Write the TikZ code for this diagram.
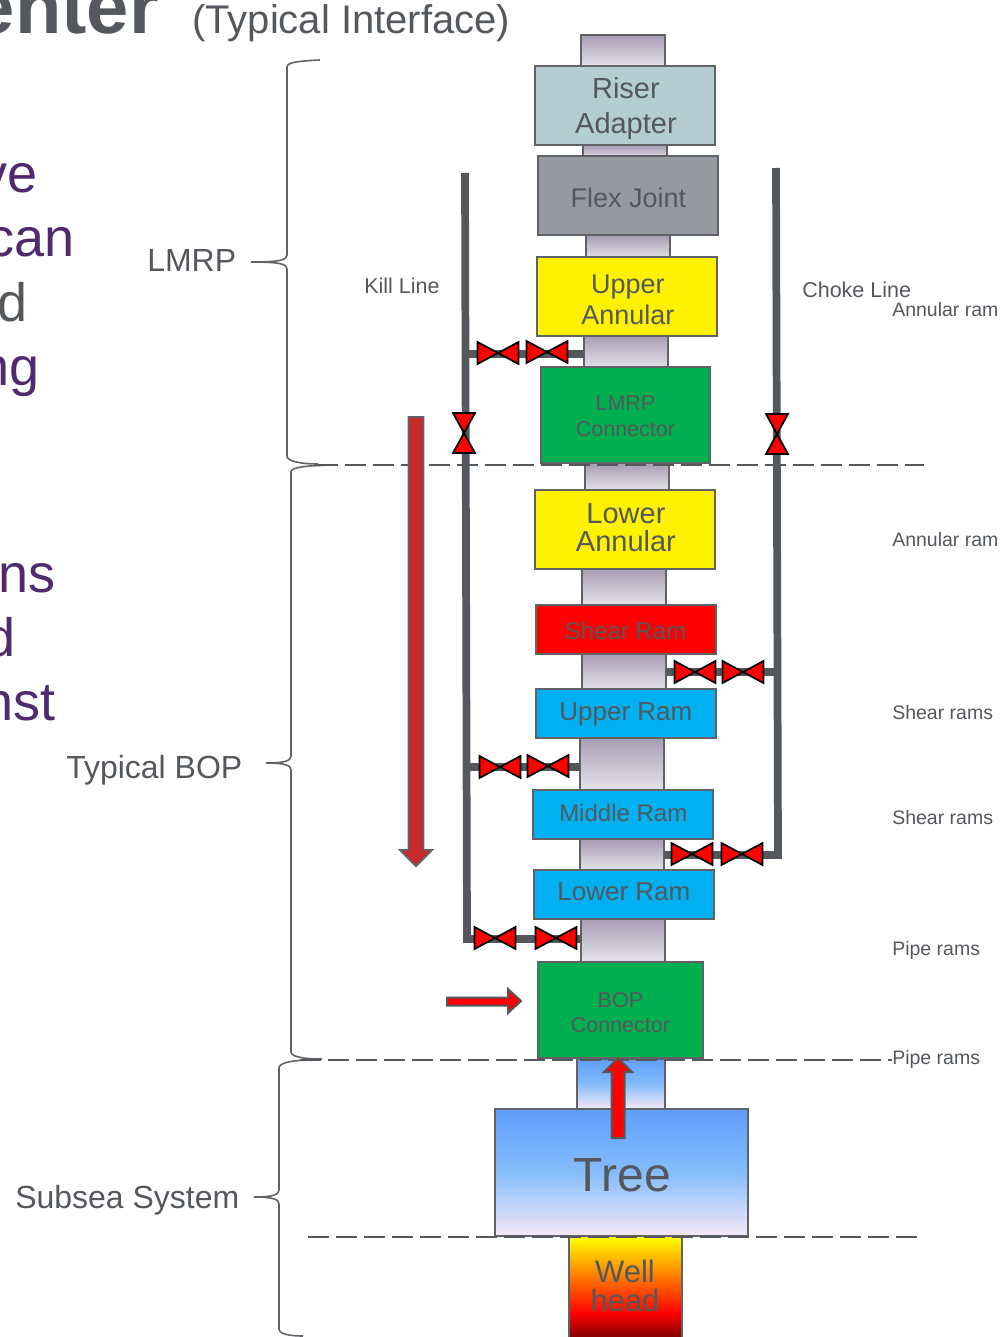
\documentclass[tikz,border=0pt]{standalone}
\usepackage{fontspec}
\setmainfont{Liberation Sans}
\definecolor{tgrey}{HTML}{54585C}
\definecolor{tpurple}{HTML}{4F2A6E}
\definecolor{adapter}{HTML}{B4CDD2}
\definecolor{flex}{HTML}{96999D}
\definecolor{conn}{HTML}{00AF50}
\definecolor{ramblue}{HTML}{00B0F0}
\definecolor{pipetop}{HTML}{A79CB4}
\definecolor{pipebot}{HTML}{E6E4EA}
\definecolor{treetop}{HTML}{5F9DFB}
\definecolor{treemid}{HTML}{85BDFB}
\definecolor{treebot}{HTML}{F6E8F6}
\definecolor{edgegrey}{HTML}{5F6266}
\definecolor{bloodred}{HTML}{C92A2E}
\newcommand{\pxl}[2]{\fontsize{\dimexpr #1pt*3/4\relax}{\dimexpr #2pt*3/4\relax}\selectfont}
\newcommand{\px}[1]{\pxl{#1}{#1}}
\tikzset{
  x=0.75pt,y=-0.75pt,
  boxn/.style={draw=edgegrey,line width=1.4pt,inner sep=0pt,outer sep=0pt,anchor=north west},
  bore/.style={draw=edgegrey,line width=1.4pt,top color=pipetop,bottom color=pipebot,inner sep=0pt,outer sep=0pt,anchor=north west,minimum width=63pt},
  boxtext/.style={text=tgrey,align=center,inner sep=0pt,xshift=0.7pt,yshift=-0.7pt},
  hose/.style={draw=tgrey,line width=5.8pt},
  dashline/.style={draw=tgrey,line width=1.5pt,dash pattern=on 15.5pt off 5.5pt},
  bracen/.style={draw=edgegrey,line width=1.2pt},
  lab/.style={text=tgrey,inner sep=0pt},
  sidelab/.style={lab,font=\px{19.5},anchor=base west},
  bodytext/.style={anchor=base east,inner sep=0pt,font=\px{54}},
  valve/.style={fill=red,draw=black,line width=1.3pt,line join=miter},
  bigarrow/.style={fill=red,draw=tgrey,line width=1.5pt,line join=miter}
}
\newcommand{\hvalve}[2]{\draw[valve] (#1-20.5,#2-11)--(#1+20.5,#2+11)--(#1+20.5,#2-11)--(#1-20.5,#2+11)--cycle;}
\newcommand{\vvalve}[2]{\draw[valve] (#1-11,#2-20)--(#1+11,#2-20)--(#1-11,#2+20)--(#1+11,#2+20)--cycle;}
\begin{document}
\begin{tikzpicture}
\useasboundingbox (0,0) rectangle (1000,1337);
\clip (0,0) rectangle (1000,1337);
% title and clipped text
\node[lab,anchor=base east,font=\bfseries\px{76}] (title) at (159,34) {enter};
\node[lab,anchor=base west,font=\px{40}] (sub) at (192,34) {(Typical Interface)};
\node[bodytext,text=tpurple] (t1) at (38,193) {ve};
\node[bodytext,text=tpurple] (t2) at (75,257) {can};
\node[bodytext,text=tgrey] (t3) at (28,321) {d};
\node[bodytext,text=tpurple] (t4) at (40,385) {ng};
\node[bodytext,text=tpurple] (t5) at (56,592) {ns};
\node[bodytext,text=tpurple] (t6) at (16,656) {d};
\node[bodytext,text=tpurple] (t7) at (56,720) {nst};
% braces
\draw[bracen] (320,60) .. controls (300,61) and (287,62) .. (287,67) -- (287,255) .. controls (287,260) and (280,262) .. (251,262) .. controls (280,262) and (287,264) .. (287,269) -- (287,456) .. controls (287,461) and (300,464) .. (318,464);
\draw[bracen] (330,465) .. controls (305,466) and (291,467) .. (291,472) -- (291,756) .. controls (291,761) and (284,763) .. (266,763) .. controls (284,763) and (291,765) .. (291,770) -- (291,1052) .. controls (291,1057) and (305,1059) .. (322,1059);
\draw[bracen] (305,1060) .. controls (290,1061) and (279,1063) .. (279,1068) -- (279,1190) .. controls (279,1195) and (272,1197) .. (254,1197) .. controls (272,1197) and (279,1199) .. (279,1204) -- (279,1329) .. controls (279,1334) and (290,1336) .. (303,1336);
\node[lab,anchor=base west,font=\px{32}] (lmrp) at (147,272) {LMRP};
\node[lab,anchor=base west,font=\px{32}] (tbop) at (66,778) {Typical BOP};
\node[lab,anchor=base west,font=\px{32}] (subsea) at (15,1208) {Subsea System};
\node[lab,anchor=base west,font=\px{21.5}] (kill) at (364,294) {Kill Line};
\node[lab,anchor=base west,font=\px{21.5}] (choke) at (802,297) {Choke Line};
% side labels
\node[sidelab] (s1) at (892,316) {Annular ram};
\node[sidelab] (s2) at (892,546) {Annular ram};
\node[sidelab] (s3) at (892,719) {Shear rams};
\node[sidelab] (s4) at (892,824) {Shear rams};
\node[sidelab] (s5) at (892,955) {Pipe rams};
\node[sidelab] (s6) at (892,1064) {Pipe rams};
% bore pipes
\node[bore,minimum height=24pt] (p1) at (581,35) {};
\node[bore,minimum height=10.5pt] (p2) at (583,145) {};
\node[bore,minimum height=18pt] (p3) at (586,235) {};
\node[bore,minimum height=25.5pt] (p4) at (584,335) {};
\node[bore,minimum height=21pt] (p5) at (585,463) {};
\node[bore,minimum height=28.5pt] (p6) at (582,568) {};
\node[bore,minimum height=27pt] (p7) at (582,654) {};
\node[bore,minimum height=40.5pt] (p8) at (580,737) {};
\node[bore,minimum height=24pt] (p9) at (580,839) {};
\node[bore,minimum height=33pt] (p10) at (581,918) {};
% lines
\coordinate (k0) at (465,173);
\coordinate (k1) at (467,939);
\coordinate (c0) at (776,168);
\coordinate (c1) at (778,855);
\draw[hose] (k0)--(k1)--(p10.west|-k1);
\coordinate (k2) at (465,354);
\draw[hose] (k2)--(p4.west|-k2);
\coordinate (k3) at (466,767);
\draw[hose] (k3)--(p8.west|-k3);
\draw[hose] (c0)--(c1)--(p9.east|-c1);
\coordinate (c2) at (777,672);
\draw[hose] (c2)--(p7.east|-c2);
% main boxes
\node[boxn,fill=adapter,minimum width=135pt,minimum height=59.25pt] (riser) at (535,66) {};
\node[boxtext,font=\pxl{29}{35}] (riserT) at ([yshift=-1.9pt]riser.center) {Riser\\Adapter};
\node[boxn,fill=flex,minimum width=135pt,minimum height=59.25pt] (flexj) at (538,156) {};
\node[boxtext,font=\px{27}] (flexT) at ([xshift=-0.4pt,yshift=-0.75pt]flexj.center) {Flex Joint};
\node[boxn,fill=yellow,minimum width=135pt,minimum height=59.25pt] (uann) at (537,257) {};
\node[boxtext,font=\pxl{27}{31}] (uannT) at ([yshift=-1.5pt]uann.center) {Upper\\Annular};
\node[boxn,fill=conn,minimum width=126.75pt,minimum height=72pt] (lmrpc) at (541,367) {};
\node[boxtext,font=\pxl{21.5}{26}] (lmrpT) at ([xshift=-0.75pt,yshift=-0.5pt]lmrpc.center) {LMRP\\Connector};
\node[boxn,fill=yellow,minimum width=135pt,minimum height=59.25pt] (lann) at (535,490) {};
\node[boxtext,font=\pxl{29}{28}] (lannT) at ([yshift=2.25pt]lann.center) {Lower\\Annular};
\node[boxn,fill=red,minimum width=135pt,minimum height=36.75pt] (shear) at (536,605) {};
\node[boxtext,font=\px{24}] (shearT) at ([xshift=-1pt]shear.center) {Shear Ram};
\node[boxn,fill=ramblue,minimum width=135pt,minimum height=36.75pt] (uram) at (536,689) {};
\node[boxtext,font=\px{26}] (uramT) at ([xshift=-0.75pt]uram.center) {Upper Ram};
\node[boxn,fill=ramblue,minimum width=135pt,minimum height=36.75pt] (mram) at (533,790) {};
\node[boxtext,font=\px{24}] (mramT) at ([xshift=-0.5pt,yshift=2.25pt]mram.center) {Middle Ram};
\node[boxn,fill=ramblue,minimum width=135pt,minimum height=36.75pt] (lram) at (534,870) {};
\node[boxtext,font=\px{26}] (lramT) at ([xshift=-0.75pt,yshift=2.5pt]lram.center) {Lower Ram};
\node[boxn,fill=conn,minimum width=123.75pt,minimum height=72pt] (bopc) at (538,962) {};
\node[boxtext,font=\pxl{21.5}{25}] (bopT) at ([xshift=-0.75pt,yshift=-1pt]bopc.center) {BOP\\Connector};
% tree
\node[boxn,top color=treetop,bottom color=treebot,middle color=treemid,minimum width=66pt,minimum height=37.5pt] (neck) at (577,1059) {};
\node[boxn,top color=treetop,bottom color=treebot,middle color=treemid,minimum width=189.75pt,minimum height=95.25pt] (tree) at (495,1109) {};
\node[boxtext,font=\px{48}] (treeT) at ([yshift=-1.5pt]tree.center) {Tree};
\fill[top color=yellow,bottom color=red] (569,1237) rectangle (682,1313);
\fill[top color=red,bottom color=red!50!black] (569,1313) rectangle (682,1338);
\draw[edgegrey,line width=1.4pt] (569,1237)--(569,1338) (682,1237)--(682,1338);
\node[text=tgrey,align=center,inner sep=0pt,font=\pxl{31}{29}] (well) at (625,1286) {Well\\head};
% dashed
\draw[dashline] (317,465)--(924,465);
\draw[dashline] (300,1060)--(892,1060);
\draw[dashline] (308,1237)--(920,1237);
% valves
\hvalve{498}{353}\hvalve{547}{352}
\vvalve{464}{433}\vvalve{777}{434}
\hvalve{695}{672}\hvalve{743}{672}
\hvalve{500}{767}\hvalve{548}{766}
\hvalve{692}{854}\hvalve{742}{854}
\hvalve{495}{938}\hvalve{556}{938}
% big arrows
\draw[fill=bloodred,draw=edgegrey,line width=1.4pt] (408.5,417)--(423.5,417)--(423.5,850)--(432,850)--(416,866)--(400,850)--(408.5,850)--cycle;
\draw[bigarrow] (447,997.5)--(508,997.5)--(508,989)--(521,1001)--(508,1013)--(508,1005.5)--(447,1005.5)--cycle;
\draw[bigarrow] (611.5,1138)--(611.5,1072)--(604,1072)--(618,1058)--(632,1072)--(624.5,1072)--(624.5,1138)--cycle;
\end{tikzpicture}
\end{document}
